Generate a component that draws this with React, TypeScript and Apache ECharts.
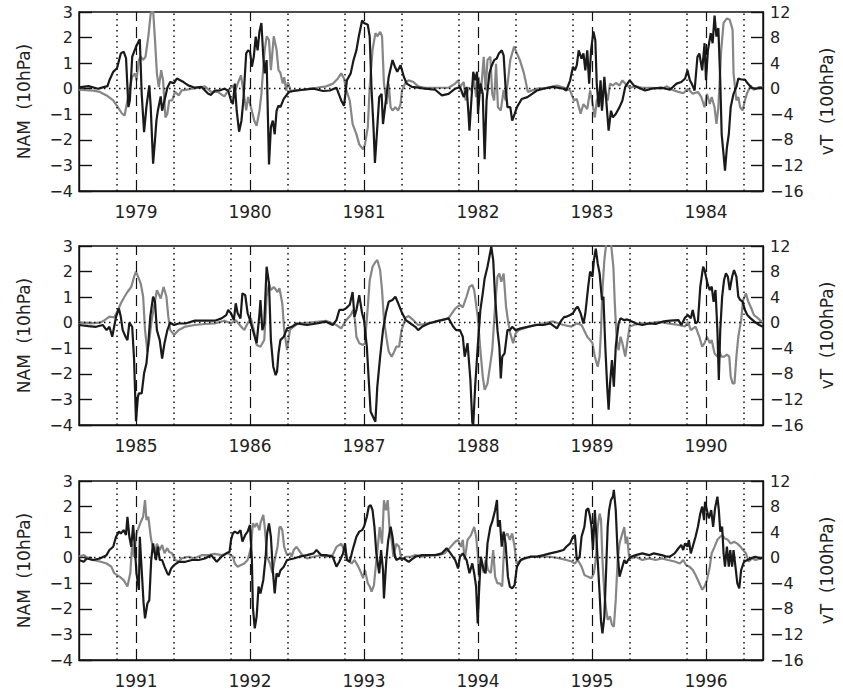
import React, { useEffect, useRef } from 'react';
import * as echarts from 'echarts';

// x = months since 1 July of each panel's first year; NAM in left-axis units, vT in right-axis units
const START_YEARS = [1978, 1984, 1990];
const YEAR_MARKS = [6, 18, 30, 42, 54, 66]; // 1 Jan
const SEASON_MARKS = [4, 10, 16, 22, 28, 34, 40, 46, 52, 58, 64, 70]; // 1 Nov, 1 May
const NAM_TICKS = { min: -4, max: 3, step: 1 };
const VT_TICKS = { min: -16, max: 12, step: 4 };

const nam1 = [[0,0.05],[1,0.1],[2,0],[2.5,0.05],[3,0.1],[3.2,0.33],[3.6,0.66],[4.0,0.8],[4.4,1.38],[4.7,1.45],[4.95,1.2],[5.2,-0.72],[5.35,-0.46],[5.6,1.25],[6.0,1.64],[6.26,1.84],[6.4,1.93],[6.6,-0.2],[6.85,-1.7],[7.1,-0.7],[7.4,0.13],[7.55,-0.72],[7.8,-2.93],[8.0,-2.0],[8.15,-1.25],[8.3,-0.86],[8.6,-0.3],[8.75,-0.86],[9.0,-0.46],[9.3,0.04],[9.6,0.26],[10.0,0.22],[10.3,0.4],[10.65,0.33],[11.0,0.26],[11.5,0.13],[12.2,0.04],[12.9,0.07],[13.6,-0.2],[13.9,-0.24],[14.3,-0.07],[14.8,-0.07],[15.3,0],[15.7,-0.07],[16.0,-0.46],[16.2,-0.6],[16.4,0.2],[16.6,-0.86],[16.85,-1.68],[17.1,-1.25],[17.3,-0.46],[17.6,1.38],[17.8,1.5],[18.0,1.45],[18.2,0.86],[18.4,1.25],[18.6,2.04],[18.8,1.5],[19.0,2.24],[19.2,2.57],[19.4,1.25],[19.55,0.6],[19.75,1.12],[20.0,-2.96],[20.2,-1.5],[20.4,-1.25],[20.6,-1.78],[20.8,-0.86],[21.0,-0.66],[21.2,-0.72],[21.55,-0.4],[22.1,-0.13],[22.6,-0.09],[23.6,-0.04],[24.7,0],[25.7,-0.09],[26.4,-0.07],[27.1,0.04],[27.6,-0.46],[27.9,-0.66],[28.2,0.33],[28.6,0.6],[28.9,1.12],[29.2,1.5],[29.45,2.04],[29.8,2.67],[30.0,2.57],[30.4,2.5],[30.6,2.04],[30.8,-0.07],[31.0,-1.51],[31.15,-2.9],[31.35,-1.78],[31.6,-0.33],[31.85,-0.2],[32.0,-1.38],[32.3,-0.46],[32.6,0.46],[33.0,1.12],[33.25,0.86],[33.5,0.66],[33.85,0.92],[34.2,0.46],[34.5,0.2],[35.05,0.07],[35.7,0.04],[36.4,0],[37.5,-0.04],[38.2,-0.26],[38.9,-0.2],[39.6,0],[40.1,0.07],[40.5,-0.33],[40.8,0.07],[41.0,-0.99],[41.1,-1.64],[41.3,-0.46],[41.5,0.66],[41.7,0.33],[41.9,0.66],[42.0,-0.99],[42.25,0.2],[42.5,-0.2],[42.6,-1.51],[42.7,-2.76],[42.9,-0.46],[43.2,0.6],[43.4,0.86],[43.7,1.12],[43.97,1.18],[44.2,1.38],[44.5,1.5],[44.7,1.3],[44.9,0.07],[45.1,-0.72],[45.4,-0.72],[45.6,-1.25],[45.85,-0.99],[46.1,-0.72],[46.6,-0.4],[47.2,-0.33],[47.7,-0.2],[48.2,-0.07],[48.9,0],[49.9,0.07],[51.0,0],[51.3,-0.07],[51.7,0.33],[52.0,0.86],[52.2,0.72],[52.4,0.92],[52.6,1.5],[52.9,1.18],[53.1,1.38],[53.3,0.72],[53.5,1.5],[53.7,0.2],[53.9,1.5],[54.15,2.24],[54.35,1.9],[54.5,0.2],[54.7,-0.72],[54.9,0.33],[55.05,-0.86],[55.3,0.46],[55.5,-0.46],[55.75,-1.64],[56.0,-0.86],[56.2,-1.12],[56.5,-0.99],[56.9,-0.72],[57.2,-0.46],[57.5,0.07],[57.96,0.33],[58.4,0.13],[58.9,0.04],[59.6,-0.07],[60.3,0],[61.35,0.04],[62.2,-0.04],[62.9,0.2],[63.4,0.26],[63.8,0.4],[64.05,0.72],[64.3,0.33],[64.5,0.2],[64.8,-0.07],[65.1,1.25],[65.3,1.38],[65.6,0.72],[65.85,1.78],[66.0,0.33],[66.2,1.5],[66.5,2.17],[66.7,1.78],[66.9,2.86],[67.1,2.04],[67.3,2.37],[67.5,0.33],[67.65,-1.78],[67.85,-2.57],[68.0,-3.2],[68.2,-2.3],[68.4,-1.78],[68.6,-0.72],[68.9,-0.2],[69.2,0.07],[69.4,0.4],[69.7,0.36],[70.1,0.36],[70.4,0.2],[70.8,0.04],[71.2,0],[71.8,0.04],[72,0]];

const vt1 = [[0,-0.15],[1.5,-0.3],[2.2,-0.5],[2.9,-1.05],[3.6,-1.84],[4.1,-2.9],[4.5,-3.84],[4.8,-4.2],[5.1,-1.84],[5.4,0.5],[5.6,1.84],[5.9,2.4],[6.05,1.3],[6.3,4.5],[6.5,5.0],[6.75,4.5],[7.0,5.0],[7.3,8.2],[7.55,11.8],[7.8,12.3],[8.0,7.6],[8.2,2.4],[8.4,0.26],[8.65,2.9],[8.85,1.3],[9.1,-4.5],[9.3,-3.9],[9.5,-1.84],[9.8,-1.84],[10.1,-0.5],[10.5,-1.05],[10.8,-0.26],[11.35,-0.15],[11.9,0],[12.6,0.15],[13.25,0.37],[13.9,-0.5],[14.6,-0.5],[15.3,-1.2],[15.85,0],[16.2,0.5],[16.4,-0.5],[16.7,0.8],[17.05,2.1],[17.3,-0.26],[17.6,-3.4],[17.8,-1.3],[18.1,-2.9],[18.45,-5.0],[18.7,-5.8],[19.0,-3.4],[19.2,-0.8],[19.4,3.4],[19.55,6.05],[19.75,8.2],[20.0,7.6],[20.2,2.9],[20.5,8.2],[20.8,6.05],[21.0,2.9],[21.2,2.5],[21.45,0.8],[21.6,1.8],[21.8,-0.3],[22.0,1.0],[22.3,-0.4],[22.6,-0.26],[23.6,-0.15],[25.0,0.15],[26.0,0.37],[26.75,0.8],[27.25,1.6],[27.6,2.4],[27.9,1.6],[28.1,0],[28.5,-1.84],[28.8,-5.5],[29.2,-7.1],[29.5,-8.7],[29.9,-9.5],[30.1,-8.7],[30.4,-6.05],[30.6,0.26],[30.9,6.05],[31.2,8.7],[31.4,8.2],[31.7,8.9],[31.9,8.2],[32.1,0.8],[32.4,-2.4],[32.6,0.8],[32.8,-2.9],[33.0,-3.4],[33.3,-2.9],[33.6,-3.4],[33.85,-2.4],[34.0,-0.26],[34.4,1.05],[34.7,1.3],[35.2,1.05],[35.7,0.37],[36.4,0.15],[37.5,0.15],[38.9,0.15],[39.6,0.8],[39.9,1.3],[40.1,0.26],[40.5,1.05],[40.7,-1.84],[41.0,0.2],[41.3,-0.26],[41.6,1.3],[41.8,-1.3],[42.05,1.84],[42.3,-0.8],[42.6,5.0],[42.8,-0.26],[43.0,4.5],[43.3,5.0],[43.5,-0.8],[43.7,-1.84],[43.9,3.9],[44.1,-2.9],[44.4,-3.4],[44.7,-0.2],[44.9,-1.84],[45.2,1.84],[45.4,4.5],[45.8,6.6],[46.1,5.5],[46.4,4.5],[46.8,2.6],[47.0,1.3],[47.25,-0.5],[47.7,-0.26],[48.2,0],[49.2,0.15],[50.3,0.5],[51.1,0.15],[51.7,-0.3],[52.1,-1.84],[52.4,-1.6],[52.8,-3.9],[53.1,-2.4],[53.5,-3.2],[53.8,-0.26],[54.0,-1.84],[54.3,-4.5],[54.5,-1.84],[54.8,-0.8],[55.05,-2.9],[55.3,0.15],[55.65,-1.84],[55.9,0.8],[56.2,0.5],[56.5,0.9],[56.9,0.5],[57.2,1.3],[57.5,0.8],[57.96,0.15],[58.6,0.37],[59.3,0.15],[60.3,0.15],[61.35,0],[61.9,0.37],[62.4,-0.15],[63.1,-0.5],[63.6,-0.7],[64.1,0],[64.6,-0.8],[65.15,-0.5],[65.5,-1.3],[65.85,-2.9],[66.1,-0.8],[66.4,-2.4],[66.6,-1.3],[66.9,-2.9],[67.1,-5.5],[67.3,-2.9],[67.6,6.05],[67.85,10.3],[68.2,11.0],[68.5,10.8],[68.8,9.2],[68.9,2.4],[69.2,-1.84],[69.4,-1.3],[69.6,-2.9],[69.85,-3.4],[70.1,-1.84],[70.3,-0.8],[70.7,0.5],[71.0,-0.15],[71.6,0.26],[72,0.15]];

const nam2 = [[0,-0.09],[1,-0.13],[1.8,-0.16],[2.5,-0.09],[2.9,-0.29],[3.2,-0.16],[3.5,-0.55],[3.7,-0.16],[3.9,0.23],[4.2,0.56],[4.4,0.23],[4.6,-0.29],[4.9,-0.55],[5.1,-0.68],[5.3,0],[5.6,-0.16],[5.8,-1.46],[6.0,-3.85],[6.2,-2.9],[6.3,-2.76],[6.6,-2.76],[6.85,-1.98],[7.1,-1.59],[7.3,-0.8],[7.5,0.23],[7.8,1.02],[8.0,0.82],[8.2,-0.29],[8.5,-0.68],[8.75,-1.4],[9.0,-0.8],[9.3,-0.29],[9.6,0],[10.0,-0.09],[10.5,-0.03],[11.2,-0.03],[12.2,0.08],[13.25,0.08],[14.3,0.08],[15.0,0.17],[15.5,0.3],[15.7,0.5],[16.0,0.37],[16.3,0.1],[16.5,0.76],[16.7,0.37],[17.0,0.17],[17.2,1.15],[17.5,1.08],[17.75,0.37],[18.0,0.1],[18.3,-0.29],[18.5,-0.55],[18.7,-0.8],[19.0,0.37],[19.1,0.89],[19.3,-0.29],[19.5,-0.03],[19.75,2.19],[20.0,1.54],[20.2,-0.68],[20.45,-1.72],[20.7,-2.05],[20.85,-1.9],[21.0,-1.2],[21.2,-0.68],[21.55,-0.55],[21.9,-0.22],[22.4,-0.16],[22.9,-0.03],[24.0,-0.09],[25.0,-0.03],[26.0,0.04],[26.7,-0.09],[27.1,0.1],[27.4,0.5],[27.8,0.5],[28.1,0.56],[28.5,0.7],[28.8,1.2],[29.0,0.23],[29.2,0.5],[29.5,1.08],[29.8,0.37],[30.0,0.1],[30.3,-0.94],[30.5,-2.24],[30.7,-3.48],[30.95,-3.68],[31.2,-3.87],[31.4,-2.5],[31.7,-1.33],[32.0,-0.29],[32.3,0.37],[32.6,0.82],[33.0,0.89],[33.3,1.02],[33.6,0.76],[33.95,0.43],[34.4,0.1],[34.9,-0.03],[35.4,-0.16],[35.7,-0.29],[36.1,-0.16],[36.8,-0.03],[37.5,0.04],[38.2,0.1],[38.9,0.17],[39.4,-0.16],[39.7,-0.29],[40.1,-0.29],[40.4,-0.55],[40.6,-1.33],[40.9,-0.8],[41.2,-2.24],[41.4,-3.9],[41.5,-4.0],[41.7,-2.5],[41.97,-0.94],[42.25,0.5],[42.5,1.15],[42.7,1.73],[43.0,2.19],[43.2,2.58],[43.4,2.97],[43.6,2.45],[43.8,1.02],[44.05,-0.29],[44.25,-0.94],[44.4,-2.18],[44.55,-1.33],[44.8,-1.2],[45.1,-0.29],[45.35,-0.29],[45.6,-0.16],[45.95,-0.29],[46.5,-0.22],[47.2,-0.16],[48.2,-0.09],[48.9,-0.09],[49.6,-0.03],[50.3,-0.22],[50.8,0.1],[51.1,0.23],[51.3,0.23],[51.7,0.3],[52.0,0.37],[52.3,0.56],[52.5,0.63],[52.8,0.37],[53.0,0.1],[53.1,-0.03],[53.3,0.37],[53.6,1.41],[53.8,2.0],[54.05,1.8],[54.2,2.45],[54.4,2.9],[54.6,2.32],[54.8,1.93],[55.05,0.89],[55.2,1.02],[55.4,-0.94],[55.6,-2.5],[55.75,-3.4],[55.9,-2.37],[56.1,-1.46],[56.3,-2.5],[56.5,-0.94],[56.8,-0.03],[57.0,0.17],[57.4,0.1],[57.7,0.13],[58.25,0.04],[58.8,-0.05],[59.3,-0.09],[60.0,-0.03],[60.7,-0.05],[61.4,0.04],[62.2,0.08],[63.1,0.1],[63.4,-0.09],[63.8,0.2],[64.1,0.3],[64.4,0.17],[64.6,0.5],[64.9,-0.03],[65.15,0.04],[65.4,1.41],[65.7,2.19],[65.85,2.06],[66.0,1.8],[66.2,1.47],[66.4,1.28],[66.6,1.41],[66.8,0.82],[67.0,1.28],[67.2,-0.29],[67.35,-2.24],[67.5,-0.29],[67.7,1.02],[67.9,1.67],[68.1,1.93],[68.3,1.8],[68.5,1.28],[68.75,1.8],[68.95,2.06],[69.2,1.8],[69.4,1.02],[69.6,0.89],[69.85,0.82],[70.1,0.5],[70.35,0.3],[70.7,0.17],[71.1,0.04],[71.6,-0.09],[72,-0.16]];

const vt2 = [[0,0],[1.2,-0.1],[2.2,0],[2.7,0.4],[3.2,0.94],[3.7,0.83],[4.1,2.0],[4.4,3.0],[4.8,4.1],[5.1,4.8],[5.5,5.6],[5.8,7.2],[6.0,8.0],[6.3,6.9],[6.5,6.1],[6.75,4.1],[6.95,-1.15],[7.2,-4.5],[7.4,-2.7],[7.65,0.4],[7.9,2.5],[8.2,5.1],[8.6,3.8],[8.9,5.6],[9.2,4.1],[9.4,0.94],[9.6,-1.15],[10.0,-1.9],[10.5,-1.15],[11.2,-0.6],[12.2,-0.36],[13.25,-0.2],[14.3,-0.1],[15.3,0.3],[16.0,-0.1],[16.5,0.4],[17.05,-0.6],[17.4,-1.15],[17.75,-0.1],[18.1,0.7],[18.4,-1.15],[18.7,-3.5],[19.1,-3.75],[19.5,-2.7],[19.75,4.1],[20.0,6.1],[20.2,5.1],[20.5,5.6],[20.9,4.8],[21.1,5.4],[21.2,4.6],[21.4,3.0],[21.6,-1.15],[21.9,-4.3],[22.2,-1.15],[22.6,-0.6],[23.1,-0.1],[24.3,0],[26.0,0.3],[27.1,-0.36],[27.6,-0.9],[28.0,0.15],[28.3,0.7],[28.6,1.2],[28.85,2.0],[29.05,0.4],[29.2,-2.2],[29.5,-3.2],[29.9,-3.5],[30.1,-3.2],[30.4,2.5],[30.6,6.6],[30.9,8.75],[31.2,9.5],[31.4,9.8],[31.7,8.2],[31.9,5.1],[32.1,0.4],[32.4,-2.7],[32.6,-4.5],[32.9,-5.3],[33.1,-4.8],[33.4,-3.75],[33.7,-3.75],[33.95,-1.15],[34.4,0.83],[34.7,1.04],[35.2,0.4],[35.7,-0.36],[36.8,-0.1],[37.8,0.3],[38.9,0.7],[39.6,2.2],[40.1,2.8],[40.4,2.4],[40.8,4.1],[41.1,5.6],[41.4,5.9],[41.6,5.1],[41.97,0.94],[42.25,-4.3],[42.5,-8.4],[42.7,-10.5],[43.0,-9.5],[43.3,-6.4],[43.5,-4.3],[43.75,1.5],[44.05,7.2],[44.25,7.7],[44.45,6.4],[44.7,7.7],[44.95,2.5],[45.2,-0.1],[45.4,-1.7],[45.7,-3.2],[45.95,-1.7],[46.3,-1.15],[46.8,-0.9],[47.9,-0.36],[48.9,-0.1],[49.9,0.2],[51.0,-0.36],[51.85,-0.6],[52.4,-0.1],[52.9,-0.36],[53.5,-2.2],[53.8,-2.7],[54.05,-3.2],[54.3,-5.3],[54.6,-6.9],[54.8,-5.3],[54.95,-1.15],[55.1,5.1],[55.3,9.8],[55.5,12.4],[55.75,13.4],[56.0,12.4],[56.25,8.75],[56.4,3.0],[56.6,-2.7],[56.8,-4.3],[57.0,-2.2],[57.2,-3.2],[57.5,-5.3],[57.7,-3.2],[57.96,-0.6],[58.4,-0.36],[59.1,-0.1],[60.0,-0.1],[61.0,0.15],[62.0,-0.1],[63.1,-0.36],[63.8,-0.6],[64.1,0.15],[64.4,-1.15],[64.9,-0.6],[65.3,-2.2],[65.6,-3.75],[65.85,-3.2],[66.1,-2.2],[66.4,-3.2],[66.6,-2.7],[66.9,-4.8],[67.2,-5.3],[67.4,-4.3],[67.6,-5.3],[67.9,-5.3],[68.2,-5.0],[68.45,-5.3],[68.6,-8.4],[68.8,-9.5],[69.0,-9.5],[69.2,-5.3],[69.4,-2.2],[69.7,0.4],[69.9,3.5],[70.2,4.6],[70.45,3.3],[70.7,2.5],[71.05,1.2],[71.4,0.8],[71.75,0.3],[72,0.15]];

const nam3 = [[0,-0.09],[0.5,-0.16],[0.8,-0.03],[1.5,-0.09],[2.2,-0.03],[2.9,0.1],[3.2,0.3],[3.6,0.43],[3.9,0.82],[4.2,1.02],[4.4,0.95],[4.7,1.08],[4.95,0.89],[5.1,1.6],[5.3,0.82],[5.5,0.43],[5.7,1.28],[5.9,0.3],[6.05,-0.61],[6.3,-1.26],[6.4,0.82],[6.6,-0.48],[6.8,-1.79],[6.95,-2.37],[7.2,-1.79],[7.4,-1.66],[7.6,-0.09],[7.8,0.56],[8.1,-0.09],[8.3,0.43],[8.5,-0.09],[8.75,-0.09],[9.0,-0.35],[9.3,-0.61],[9.45,-0.68],[9.7,-0.42],[10.0,-0.29],[10.5,-0.16],[11.2,-0.16],[11.9,-0.09],[12.6,-0.09],[13.25,-0.03],[13.9,0.1],[14.5,-0.16],[15.0,0.04],[15.5,0.17],[15.85,0.23],[16.0,0.69],[16.2,0.95],[16.4,1.02],[16.7,0.95],[17.0,1.08],[17.2,0.63],[17.5,0.89],[17.75,1.02],[18.0,1.28],[18.2,-0.09],[18.3,-1.92],[18.5,-2.76],[18.7,-2.3],[18.9,-1.13],[19.1,-1.4],[19.4,-0.87],[19.65,0.04],[19.8,0.95],[20.0,1.34],[20.2,0.82],[20.4,-0.48],[20.6,-1.4],[20.8,-0.61],[21.0,-0.74],[21.2,-0.5],[21.55,-0.35],[21.9,-0.09],[22.6,-0.03],[23.2,0.04],[24.0,0.1],[24.7,0.17],[25.0,0.3],[25.5,0.1],[26.0,0.1],[26.7,0.04],[27.1,-0.35],[27.4,-0.16],[27.8,0.17],[28.0,0.56],[28.2,-0.09],[28.5,-0.16],[28.8,0.3],[29.0,0.56],[29.2,0.82],[29.5,1.02],[29.8,1.08],[30.0,1.21],[30.3,1.6],[30.5,2.0],[30.7,2.06],[30.9,1.86],[31.1,1.21],[31.3,0.17],[31.6,-0.61],[31.8,0.3],[32.0,-0.48],[32.1,-1.59],[32.35,-0.09],[32.55,0.69],[32.8,1.21],[33.0,0.82],[33.2,0.17],[33.4,-0.09],[33.7,-0.03],[34.2,-0.03],[34.7,-0.16],[35.4,0.04],[36.1,0.1],[36.8,0.1],[37.5,0.1],[38.2,0.17],[38.7,0.37],[39.0,0.23],[39.6,-0.09],[39.9,-0.42],[40.1,0.04],[40.4,0.17],[40.8,-0.09],[41.1,-0.61],[41.4,-0.22],[41.6,-0.61],[41.8,-1.13],[41.97,-2.57],[42.1,-1.4],[42.3,0.04],[42.6,-0.48],[42.8,-0.61],[43.0,0.56],[43.3,1.21],[43.5,1.41],[43.8,1.86],[44.0,2.26],[44.1,1.21],[44.3,1.47],[44.5,0.43],[44.7,1.02],[44.9,0.56],[45.15,-0.74],[45.35,-1.13],[45.6,-1.2],[45.85,-1.07],[46.1,-0.35],[46.5,-0.09],[46.8,-0.03],[47.5,0.04],[48.2,0.04],[48.9,0.1],[49.6,0.17],[50.3,0.23],[51.0,0.3],[51.3,0.43],[51.7,0.56],[52.0,0.82],[52.2,0.89],[52.4,-0.09],[52.7,0.04],[52.9,0.82],[53.1,1.08],[53.2,1.21],[53.4,1.86],[53.6,1.93],[53.8,1.6],[53.95,1.21],[54.1,0.3],[54.3,1.86],[54.4,1.21],[54.6,-0.09],[54.8,-1.4],[54.95,-2.5],[55.1,-2.96],[55.3,-2.3],[55.5,-0.35],[55.65,1.21],[55.8,1.86],[56.0,2.26],[56.2,2.39],[56.3,2.65],[56.5,1.86],[56.7,0.17],[56.9,-0.74],[57.0,-0.61],[57.2,-0.35],[57.4,-0.09],[57.6,-0.22],[57.8,-0.09],[58.1,0.04],[58.6,0.1],[59.3,0.17],[60.0,0.1],[60.5,0.17],[61.35,0.1],[61.9,0.04],[62.2,0.04],[62.7,0.17],[63.1,0.37],[63.4,0.5],[63.6,0.3],[63.8,0.56],[64.05,0.43],[64.2,0.69],[64.4,0.17],[64.6,0.43],[64.9,0.82],[65.15,1.21],[65.4,1.73],[65.6,2.0],[65.8,1.47],[65.9,2.19],[66.1,1.86],[66.3,1.54],[66.55,1.86],[66.75,1.21],[66.95,1.93],[67.2,2.39],[67.35,1.86],[67.5,1.02],[67.7,1.21],[67.85,0.17],[68.0,-0.35],[68.2,0.43],[68.4,-0.35],[68.55,0.3],[68.75,-0.35],[68.9,0.3],[69.1,-0.35],[69.3,-1.0],[69.5,-1.2],[69.7,-0.48],[70.0,-0.16],[70.35,-0.09],[70.7,-0.03],[71.2,0.04],[71.75,-0.03],[72,0.01]];

const vt3 = [[0,0.15],[0.5,0.4],[1.0,-0.1],[1.5,-0.36],[2.2,-0.6],[2.9,-0.9],[3.4,-1.4],[3.7,-2.4],[4.3,-3.0],[4.7,-3.5],[5.1,-4.5],[5.4,-2.4],[5.6,2.2],[5.8,0.15],[6.05,3.8],[6.3,4.8],[6.5,5.6],[6.75,6.4],[6.95,9.0],[7.1,5.9],[7.3,6.4],[7.55,3.3],[7.8,1.2],[8.0,0.7],[8.2,2.2],[8.5,1.2],[8.75,2.0],[9.0,0.7],[9.3,1.5],[9.5,0.9],[9.8,0.7],[10.1,-0.36],[10.5,-0.6],[10.8,-0.1],[11.5,0.15],[12.2,-0.1],[12.9,0.4],[13.6,0.4],[14.3,0.6],[15.0,0.4],[15.7,0.7],[16.2,0.15],[16.4,-0.9],[16.7,-1.4],[17.05,-1.15],[17.4,-0.9],[17.75,-0.36],[18.1,1.5],[18.3,5.4],[18.5,4.8],[18.7,5.4],[19.0,4.3],[19.1,5.4],[19.4,6.7],[19.55,4.8],[19.8,0.15],[20.1,-0.9],[20.35,-2.4],[20.6,-0.36],[20.9,1.7],[21.1,4.8],[21.25,4.8],[21.4,4.3],[21.6,1.7],[21.9,0.4],[22.25,0.7],[22.4,0.15],[22.6,1.2],[22.9,1.7],[23.5,0.4],[24.0,-0.1],[24.7,0.15],[25.4,0.4],[26.0,0.15],[26.7,0.4],[27.1,1.7],[27.6,2.2],[28.0,0.9],[28.3,-0.36],[28.7,-0.9],[29.0,-0.36],[29.4,-1.4],[29.7,-2.4],[29.9,-3.2],[30.1,-1.9],[30.4,-4.0],[30.6,-4.5],[30.8,-5.3],[31.05,-4.3],[31.2,-1.9],[31.45,1.7],[31.65,4.8],[31.9,2.2],[32.1,9.0],[32.3,7.4],[32.5,9.0],[32.7,4.3],[32.9,2.8],[33.1,0.15],[33.4,2.2],[33.7,1.7],[33.95,-0.36],[34.4,0.15],[34.9,0.15],[35.4,0.4],[36.1,0.15],[37.1,0.4],[37.8,0.4],[38.5,0.7],[39.0,1.5],[39.6,2.5],[39.9,2.8],[40.2,1.7],[40.4,2.8],[40.6,-0.36],[40.9,2.8],[41.25,3.5],[41.6,4.8],[41.8,3.3],[41.97,0.7],[42.1,-3.0],[42.3,-0.36],[42.6,-2.4],[42.8,-0.36],[43.05,-1.9],[43.35,-2.4],[43.6,1.2],[43.8,-3.0],[44.05,-4.0],[44.3,-4.0],[44.55,-4.5],[44.8,3.3],[45.1,3.8],[45.35,2.8],[45.6,3.8],[45.85,1.7],[46.05,-0.9],[46.3,-0.6],[46.6,-0.36],[47.5,0.15],[48.5,0.15],[49.6,0.15],[50.6,-0.1],[51.3,-0.36],[51.85,-0.6],[52.2,-0.9],[52.5,-0.36],[52.9,-1.4],[53.2,-2.7],[53.6,-3.0],[53.95,-3.2],[54.2,-2.4],[54.4,-0.36],[54.6,4.8],[54.8,6.9],[54.95,5.9],[55.1,-0.36],[55.3,-5.6],[55.5,-8.2],[55.65,-9.7],[55.9,-9.2],[56.1,-10.5],[56.3,-10.8],[56.5,-6.6],[56.7,-0.36],[56.9,2.2],[57.0,2.8],[57.2,3.8],[57.4,4.8],[57.55,2.2],[57.7,3.3],[57.9,0.15],[58.2,-0.1],[58.6,0.15],[59.3,-0.36],[60.0,-0.1],[60.7,-0.36],[61.35,-0.1],[62.0,-0.36],[62.7,-0.6],[63.25,-0.9],[63.6,-0.36],[63.9,-1.15],[64.25,-1.4],[64.6,-1.9],[64.9,-2.7],[65.3,-4.0],[65.6,-5.0],[65.85,-4.5],[66.1,-3.5],[66.4,-1.4],[66.6,0.7],[66.9,1.7],[67.2,2.8],[67.5,3.3],[67.75,3.5],[68.0,3.0],[68.3,2.8],[68.6,2.2],[68.95,2.5],[69.3,2.2],[69.65,1.7],[69.9,1.2],[70.2,0.7],[70.5,-0.6],[70.85,-0.1],[71.2,-0.36],[71.75,-0.1],[72,0.05]];

const PANELS = [
  { nam: nam1, vt: vt1, start: START_YEARS[0] },
  { nam: nam2, vt: vt2, start: START_YEARS[1] },
  { nam: nam3, vt: vt3, start: START_YEARS[2] },
];

const FONT = "'DejaVu Sans', sans-serif";
const TEXT = '#222';
const INK = '#111';
const BLACK_LINE = '#1a1a1a';
const GRAY_LINE = '#868686';
const GRID_TOPS = [12, 246, 481];

const minus = (v: number) => String(v).replace('-', '\u2212');

function buildOption() {
  const grid = PANELS.map((_, i) => ({
    left: 79, width: 693, top: GRID_TOPS[i], height: 179,
    show: true, borderColor: INK, borderWidth: 1.4, backgroundColor: 'transparent',
  }));
  const xAxis = PANELS.map((p, i) => ({
    type: 'value', gridIndex: i, min: 0, max: 72, interval: 6, position: 'bottom',
    axisLine: { show: true, onZero: false, lineStyle: { color: INK, width: 1.4 } },
    axisTick: { show: false },
    splitLine: { show: false },
    axisLabel: {
      margin: 12, fontSize: 17, color: TEXT, fontFamily: FONT,
      formatter: (v: number) => (v > 0 && v < 72 && (v - 6) % 12 === 0 ? String(p.start + 1 + (v - 6) / 12) : ''),
    },
  }));
  const yAxis: any[] = [];
  PANELS.forEach((_, i) => {
    yAxis.push({
      type: 'value', gridIndex: i, position: 'left',
      min: NAM_TICKS.min, max: NAM_TICKS.max, interval: NAM_TICKS.step,
      name: 'NAM  (10hPa)', nameLocation: 'middle', nameRotate: 90, nameGap: 47,
      nameTextStyle: { fontSize: 17, color: TEXT, fontFamily: FONT },
      axisLine: { show: true, onZero: false, lineStyle: { color: INK, width: 1.4 } },
      axisTick: { show: true, inside: true, length: 13, lineStyle: { color: INK, width: 1.4 } },
      splitLine: { show: false },
      axisLabel: { margin: 6, fontSize: 16, color: TEXT, fontFamily: FONT, formatter: minus },
    });
    yAxis.push({
      type: 'value', gridIndex: i, position: 'right',
      min: VT_TICKS.min, max: VT_TICKS.max, interval: VT_TICKS.step,
      name: 'vT  (100hPa)', nameLocation: 'middle', nameRotate: 90, nameGap: 55,
      nameTextStyle: { fontSize: 17, color: TEXT, fontFamily: FONT },
      axisLine: { show: true, onZero: false, lineStyle: { color: INK, width: 1.4 } },
      axisTick: { show: true, inside: true, length: 12, lineStyle: { color: INK, width: 1.4 } },
      splitLine: { show: false },
      axisLabel: { margin: 7, fontSize: 16, color: TEXT, fontFamily: FONT, formatter: minus },
    });
  });
  const series: any[] = [];
  PANELS.forEach((p, i) => {
    series.push({
      type: 'line', xAxisIndex: i, yAxisIndex: 2 * i, data: p.nam,
      showSymbol: false, symbol: 'none', clip: true, z: 3,
      lineStyle: { color: BLACK_LINE, width: 2.2 },
      emphasis: { disabled: true },
      markLine: {
        silent: true, symbol: ['none', 'none'], label: { show: false }, animation: false,
        data: [
          ...YEAR_MARKS.map((m) => ({ xAxis: m, lineStyle: { color: INK, width: 1.2, type: [11, 6] } })),
          ...SEASON_MARKS.map((m) => ({ xAxis: m, lineStyle: { color: INK, width: 1.5, type: [1.5, 4] } })),
          { yAxis: 0, lineStyle: { color: INK, width: 1.3, type: [1.5, 3.5] } },
        ],
      },
    });
    series.push({
      type: 'line', xAxisIndex: i, yAxisIndex: 2 * i + 1, data: p.vt,
      showSymbol: false, symbol: 'none', clip: true, z: 2,
      lineStyle: { color: GRAY_LINE, width: 2.2 },
      emphasis: { disabled: true },
    });
  });
  return { animation: false, backgroundColor: '#fff', grid, xAxis, yAxis, series };
}

export default function App() {
  const ref = useRef<HTMLDivElement>(null);
  useEffect(() => {
    const chart = echarts.init(ref.current!, null, { renderer: 'svg' });
    chart.setOption(buildOption() as any);
    return () => chart.dispose();
  }, []);
  return (
    <div
      ref={ref}
      style={{ position: 'absolute', left: 0, top: 0, width: 843, height: 694, background: '#fff' }}
    />
  );
}
